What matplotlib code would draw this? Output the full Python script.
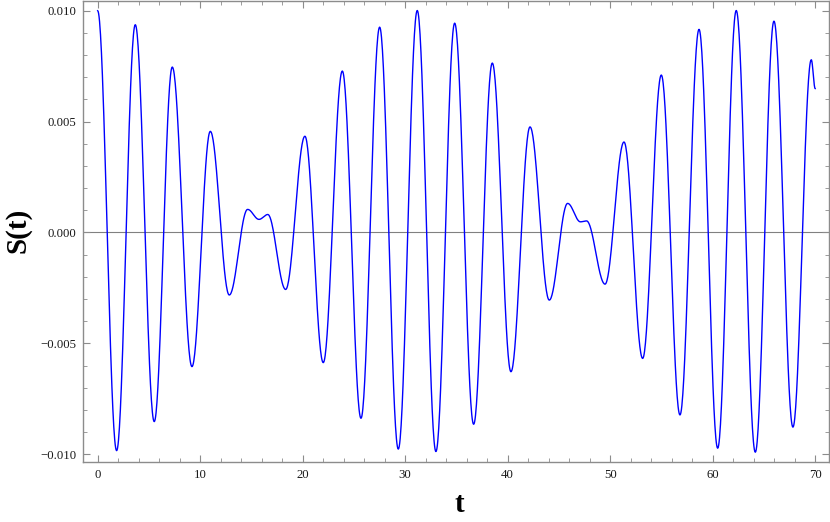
import numpy as np
import matplotlib
matplotlib.use('Agg')
import matplotlib.pyplot as plt
from matplotlib.ticker import MultipleLocator, FuncFormatter

# extrema of S(t) (t, value), in order
t_ext = [0.0, 1.85, 3.67, 5.52, 7.28, 9.2, 10.99, 12.84, 14.63, 15.74, 16.6,
         18.34, 20.22, 22.01, 23.87, 25.69, 27.51, 29.33, 31.18, 33.0, 34.83,
         36.68, 38.5, 40.32, 42.18, 44.06, 45.85, 47.1, 47.7, 49.5, 51.35,
         53.17, 54.99, 56.81, 58.67, 60.49, 62.3, 64.16, 65.98, 67.83, 69.62, 70.0]
s_ext = [0.0100, -0.00984, 0.00937, -0.00853, 0.00746, -0.00605, 0.00456,
         -0.00282, 0.00104, 0.00059, 0.00081, -0.00257, 0.00434, -0.00587,
         0.00728, -0.00838, 0.00926, -0.00977, 0.01001, -0.00988, 0.00944,
         -0.00865, 0.00764, -0.00628, 0.00476, -0.00305, 0.00131, 0.00048,
         0.00052, -0.00233, 0.00408, -0.00568, 0.0071, -0.00823, 0.00916,
         -0.00973, 0.01001, -0.00991, 0.00953, -0.00878, 0.00779, 0.00649]

x_ticks = [0, 10, 20, 30, 40, 50, 60, 70]
y_ticks = [-0.010, -0.005, 0.000, 0.005, 0.010]

# smooth half-cosine between neighbouring extrema
tt, ss = [], []
for i in range(len(t_ext) - 1):
    u = np.linspace(0, 1, 40, endpoint=False)
    w = (1 - np.cos(np.pi * u)) / 2
    tt.extend(t_ext[i] + (t_ext[i + 1] - t_ext[i]) * u)
    ss.extend(s_ext[i] + (s_ext[i + 1] - s_ext[i]) * w)
tt.append(t_ext[-1])
ss.append(s_ext[-1])

plt.rcParams['font.family'] = ['Liberation Serif', 'DejaVu Serif']

fig = plt.figure(figsize=(8.3, 5.22), dpi=100)
ax = fig.add_axes([0.1, 0.115, 0.8988, 0.884])

ax.axhline(0, color='#808080', lw=0.8, zorder=1)
ax.plot(tt, ss, color='#0000ff', lw=1.0, zorder=2)

ax.set_xlim(-1.43, 71.35)
ax.set_ylim(-0.01035, 0.01046)

ax.set_xticks(x_ticks)
ax.set_yticks(y_ticks)
ax.xaxis.set_minor_locator(MultipleLocator(2))
ax.yaxis.set_minor_locator(MultipleLocator(0.001))
ax.yaxis.set_major_formatter(FuncFormatter(lambda v, p: ('%.3f' % v).replace('-', '\u2212')))

for sp in ax.spines.values():
    sp.set_color('#8c8c8c')
    sp.set_linewidth(1.0)
ax.tick_params(which='both', direction='in', top=True, right=True,
               color='#8c8c8c', labelsize=9.2, labelcolor='#1a1a1a')
ax.tick_params(which='major', length=5, width=0.8, pad=5)
ax.tick_params(which='minor', length=3, width=0.6)

fig.text(0.553, 0.033, 't', fontsize=21, fontweight='bold', ha='center', va='center')
fig.text(0.022, 0.559, 'S(t)', fontsize=21, fontweight='bold', ha='center', va='center',
         rotation=90)

fig.savefig('out.png', dpi=100)
